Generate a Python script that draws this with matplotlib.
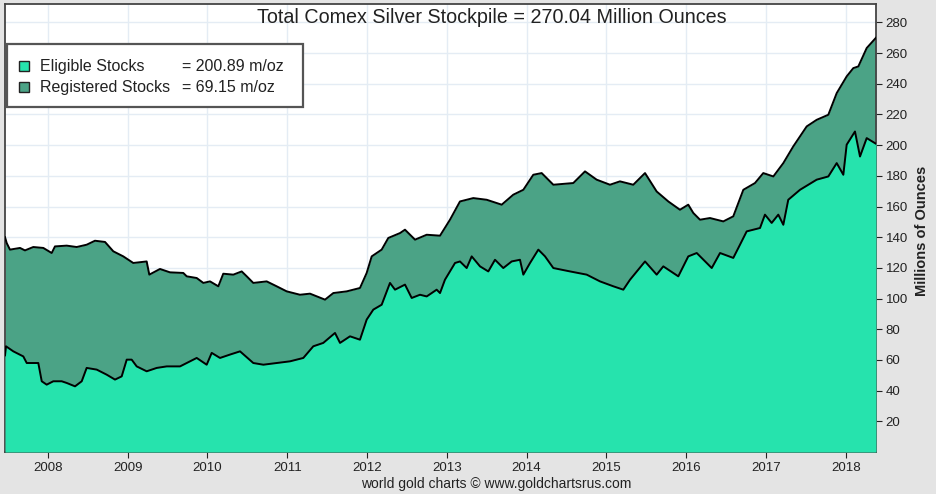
import numpy as np
import matplotlib
matplotlib.use('Agg')
import matplotlib.pyplot as plt
from matplotlib.patches import Rectangle

plt.rcParams['font.family'] = ['Liberation Sans', 'DejaVu Sans']

# total stockpile (eligible + registered), millions of ounces
total_year = [2007.464, 2007.485, 2007.526, 2007.652, 2007.714, 2007.818, 2007.944, 2008.049,
              2008.090, 2008.237, 2008.362, 2008.487, 2008.591, 2008.717, 2008.821, 2008.946,
              2009.071, 2009.239, 2009.272, 2009.406, 2009.531, 2009.698, 2009.741, 2009.866,
              2009.949, 2010.033, 2010.137, 2010.199, 2010.325, 2010.430, 2010.493, 2010.575,
              2010.743, 2010.868, 2010.994, 2011.160, 2011.286, 2011.474, 2011.578, 2011.746,
              2011.912, 2011.996, 2012.059, 2012.184, 2012.267, 2012.414, 2012.476, 2012.602,
              2012.748, 2012.915, 2013.040, 2013.165, 2013.332, 2013.500, 2013.688, 2013.833,
              2013.959, 2014.084, 2014.189, 2014.335, 2014.585, 2014.732, 2014.878, 2015.045,
              2015.170, 2015.337, 2015.484, 2015.630, 2015.776, 2015.922, 2016.026, 2016.089,
              2016.173, 2016.298, 2016.465, 2016.590, 2016.716, 2016.862, 2016.966, 2017.092,
              2017.217, 2017.342, 2017.510, 2017.635, 2017.781, 2017.886, 2018.011, 2018.094,
              2018.157, 2018.262, 2018.378]
total_val = [140, 136.2, 131.9, 133, 131.4, 133.6, 133, 129.7,
             134, 134.5, 133.6, 135.1, 137.7, 136.9, 130.8, 127.5,
             123.2, 124.2, 115.6, 119.3, 117.1, 116.7, 114.5, 113.4,
             110.2, 111.2, 108, 116.2, 115.6, 117.7, 114.5, 110.2,
             111.2, 108, 104.7, 102.5, 103.2, 99.3, 103.6, 104.7,
             106.9, 116.7, 127.5, 131.9, 139.5, 142.7, 144.9, 138.4,
             141.6, 141, 151.4, 163.3, 165.5, 164.4, 161.2, 167.7,
             170.9, 180.7, 181.8, 174.2, 175.3, 182.9, 177.5, 174.2,
             176.4, 174.2, 181.8, 169.8, 163.3, 157.9, 161.2, 155.8,
             151.4, 152.5, 150.3, 153.6, 170.9, 175.3, 181.8, 179.6,
             188.3, 199.2, 212.2, 216.5, 219.8, 233.9, 244.8, 250.2,
             251.3, 263.3, 270]

# eligible stocks, millions of ounces
elig_year = [2007.464, 2007.476, 2007.568, 2007.693, 2007.736, 2007.881, 2007.924, 2007.986,
             2008.069, 2008.174, 2008.237, 2008.341, 2008.425, 2008.487, 2008.613, 2008.738,
             2008.842, 2008.926, 2008.989, 2009.051, 2009.114, 2009.239, 2009.365, 2009.490,
             2009.657, 2009.866, 2009.991, 2010.054, 2010.158, 2010.283, 2010.409, 2010.575,
             2010.701, 2010.868, 2011.035, 2011.202, 2011.327, 2011.452, 2011.599, 2011.662,
             2011.787, 2011.912, 2011.996, 2012.079, 2012.184, 2012.288, 2012.351, 2012.476,
             2012.560, 2012.664, 2012.748, 2012.873, 2012.915, 2012.977, 2013.103, 2013.165,
             2013.249, 2013.312, 2013.416, 2013.520, 2013.604, 2013.708, 2013.813, 2013.917,
             2013.959, 2014.043, 2014.147, 2014.231, 2014.335, 2014.544, 2014.753, 2014.920,
             2015.087, 2015.212, 2015.296, 2015.484, 2015.630, 2015.713, 2015.901, 2016.026,
             2016.132, 2016.320, 2016.424, 2016.590, 2016.674, 2016.758, 2016.925, 2016.987,
             2017.071, 2017.154, 2017.217, 2017.279, 2017.426, 2017.635, 2017.781, 2017.886,
             2017.969, 2018.011, 2018.115, 2018.178, 2018.262, 2018.378]
elig_val = [63, 68.9, 65.6, 62.3, 58, 58, 46.1, 43.9,
            46.1, 46.1, 45, 42.8, 46.1, 54.8, 53.7, 50.4,
            47.2, 49.3, 60.2, 60.2, 55.8, 52.6, 54.8, 55.8,
            55.8, 61.3, 56.9, 64.6, 61.3, 63.5, 65.6, 58,
            56.9, 58, 59.1, 61.3, 68.9, 71.1, 77.6, 71.1,
            75.4, 73.2, 86.3, 92.8, 96, 110.2, 105.8, 109.1,
            100.4, 102.5, 101.4, 105.8, 103.6, 112.3, 123.2, 124.2,
            119.9, 127.5, 121, 117.7, 125.3, 119.9, 124.2, 125.3,
            115.6, 123.2, 131.9, 127.5, 119.9, 117.7, 115.6, 111.2,
            108, 105.8, 112.3, 124.2, 115.6, 121, 114.5, 127.5,
            129.7, 119.9, 129.7, 126.5, 135.1, 143.8, 146, 154.7,
            149.3, 154.7, 148.1, 164.4, 170.9, 177.5, 179.6, 188.3,
            180.7, 200.3, 208.9, 192.6, 204.6, 200.9]

legend_names = ['Eligible Stocks', 'Registered Stocks']
legend_vals = [200.89, 69.15]
title_total = 270.04
years = list(range(2008, 2019))
yticks = list(range(20, 281, 20))

c_elig = '#26e3ad'
c_reg = '#4ba386'

fig = plt.figure(figsize=(9.37, 4.94), dpi=100, facecolor='#e4e4e4')
ax = fig.add_axes([5/937, 1-452/494, 871/937, 448/494])
ax.set_facecolor('white')

ax.fill_between(total_year, 0, total_val, color=c_reg, lw=0, zorder=2)
ax.fill_between(elig_year, 0, elig_val, color=c_elig, lw=0, zorder=3)
ax.plot(total_year, total_val, color='black', lw=1.4, zorder=4)
ax.plot(elig_year, elig_val, color='black', lw=1.4, zorder=4)

ax.set_xlim(2007.4637, 2018.3785)
ax.set_ylim(0, 292)
ax.set_xticks(years)
ax.set_xticklabels([str(y) for y in years], fontsize=9.5)
ax.set_yticks(yticks)
ax.yaxis.tick_right()
ax.tick_params(axis='y', direction='out', length=4, pad=3, labelsize=9.5, colors='#222222')
ax.tick_params(axis='x', direction='out', length=4, pad=3, colors='#222222')
ax.grid(True, color='#e4ecf4', lw=1, zorder=1)
ax.set_axisbelow(True)
for s in ax.spines.values():
    s.set_color('#444444')
    s.set_linewidth(1.3)

ax.text(0.559, 0.969, 'Total Comex Silver Stockpile = {:.2f} Million Ounces'.format(title_total),
        transform=ax.transAxes, ha='center', va='center', fontsize=14.2, color='#222222', zorder=6)

# legend box
ax.add_patch(Rectangle((0.0023, 0.770), 0.3397, 0.1406, transform=ax.transAxes,
                       facecolor='white', edgecolor='#555555', lw=1.6, zorder=6))
rows_y = [0.8616, 0.8147]
for i, (name, val, col) in enumerate(zip(legend_names, legend_vals, [c_elig, c_reg])):
    ax.plot([0.0218], [rows_y[i]], marker='s', ms=7, mfc=col, mec='#222222', mew=1,
            transform=ax.transAxes, zorder=7, clip_on=False)
    ax.text(0.0402, rows_y[i], name, transform=ax.transAxes, va='center', fontsize=11.5,
            color='#222222', zorder=7)
    ax.text(0.2032, rows_y[i], '= {:.2f} m/oz'.format(val), transform=ax.transAxes, va='center',
            fontsize=11.5, color='#222222', zorder=7)

fig.text(922/937, 1-231/494, 'Millions of Ounces', rotation=90, ha='center', va='center',
         fontsize=10.5, fontweight='bold', color='#222222')
fig.text(496/937, 1-484/494, 'world gold charts \u00a9 www.goldchartsrus.com', ha='center',
         va='center', fontsize=10, color='#222222')

fig.savefig('out.png', dpi=100, facecolor=fig.get_facecolor())
